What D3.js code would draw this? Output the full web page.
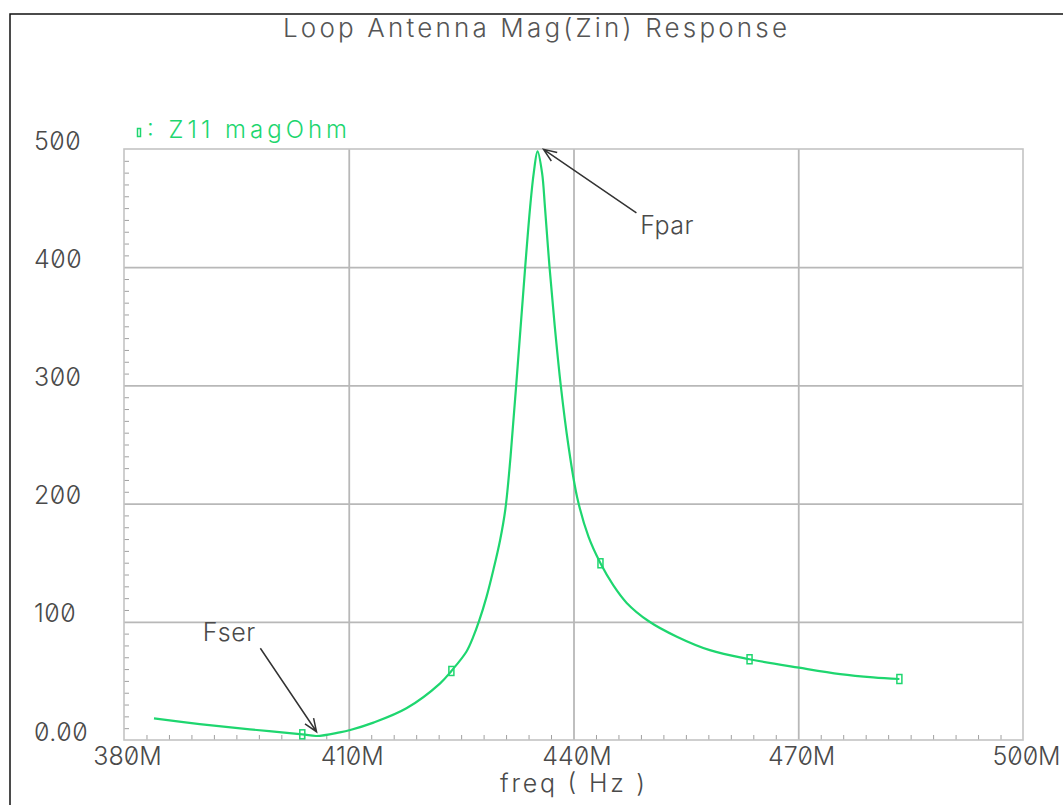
<!DOCTYPE html>
<html>
<head>
<meta charset="utf-8">
<script src="https://cdn.jsdelivr.net/npm/d3@7"></script>
<style>
  body { margin: 0; background: #fff; }
  text { font-family: Inter, "DejaVu Sans", sans-serif; font-weight: 300;
         font-variant-numeric: slashed-zero; font-feature-settings: "zero" 1; }
</style>
</head>
<body>
<div id="chart"></div>
<script>
// data (freq in MHz, magnitude in Ohm)
var freq = [384, 390.1, 396.8, 403.8, 405.7, 408.8, 410.2, 413.3, 417.7, 422.2, 423.7, 425.7, 426.6, 427.4,
            428.4, 429.3, 430.2, 430.9, 431.6, 432.35, 433.55, 434.2, 434.7, 435.2, 435.8, 436.2, 436.8, 437.5,
            438.3, 439.3, 440.5, 442, 443.6, 445.3, 447.1, 450, 453.8, 458.2, 463.5, 470.1, 475.6, 480, 483.5];
var mag  = [18.3, 13.5, 9, 4.8, 3.4, 6.5, 8.5, 14.7, 26.8, 47.9, 58.4, 74.7, 87, 100.7,
            121.3, 143.8, 169, 195, 240, 300, 400, 450, 480, 498, 480, 450, 400, 350,
            300, 250, 205, 172, 149.5, 131, 116, 100.7, 87.4, 76, 68.3, 61.2, 55.8, 53, 51.6];
var markerFreq = [403.8, 423.7, 443.6, 463.5, 483.5];
var markerMag  = [4.8, 58.4, 149.5, 68.3, 51.6];

var xTicks = [380, 410, 440, 470, 500];
var yTicks = [0, 100, 200, 300, 400, 500];
var yTickLabels = ["0.00", "100", "200", "300", "400", "500"];

var title = "Loop Antenna Mag(Zin) Response";
var legendLabel = ": Z11 magOhm";
var xTitle = "freq ( Hz )";

// annotations in data coords: label pos, arrow tail, arrow tip
var notes = [
  { text: "Fpar", lx: 448.9, ly: 428, tx: 448.4, ty: 446, hx: 436.0, hy: 499.7 },
  { text: "Fser", lx: 390.5, ly: 84, tx: 398.2, ty: 77.6, hx: 405.7, hy: 7 }
];

var svgWidth = 1063;
var svgHeight = 805;
var margin = { top: 149, right: 40, bottom: 65, left: 124 };
var width = svgWidth - margin.left - margin.right;
var height = svgHeight - margin.top - margin.bottom;

var green = "#1ed66f";
var gridColor = "#b8b8b8";
var textColor = "#4a4a4a";

var svg = d3.select("#chart")
  .append("svg")
  .attr("width", svgWidth)
  .attr("height", svgHeight);

// outer frame (top and left edges visible)
svg.append("path")
  .attr("d", "M10," + svgHeight + " V14 H" + svgWidth)
  .attr("fill", "none")
  .attr("stroke", "#111")
  .attr("stroke-width", 1.5);

var chart = svg.append("g")
  .attr("transform", `translate(${margin.left}, ${margin.top})`);

var x = d3.scaleLinear().domain([380, 500]).range([0, width]);
var y = d3.scaleLinear().domain([0, 500]).range([height, 0]);

// minor ticks
var xMinor = d3.range(383, 500, 3).filter(d => (d - 380) % 30 !== 0);
var yMinor = d3.range(10, 500, 10).filter(d => d % 100 !== 0);

chart.append("g")
  .attr("transform", `translate(0, ${height})`)
  .call(d3.axisBottom(x).tickValues(xMinor).tickSize(-5).tickFormat(""))
  .call(g => g.select(".domain").remove())
  .selectAll("line").attr("stroke", "#a0a0a0");

chart.append("g")
  .call(d3.axisLeft(y).tickValues(yMinor).tickSize(-5).tickFormat(""))
  .call(g => g.select(".domain").remove())
  .selectAll("line").attr("stroke", "#a0a0a0");

// grid
chart.append("g")
  .attr("transform", `translate(0, ${height})`)
  .call(d3.axisBottom(x).tickValues(xTicks.slice(1, -1)).tickSize(-height).tickFormat(""))
  .call(g => g.select(".domain").remove())
  .selectAll("line").attr("stroke", gridColor).attr("stroke-width", 1.8);

chart.append("g")
  .call(d3.axisLeft(y).tickValues(yTicks.slice(1, -1)).tickSize(-width).tickFormat(""))
  .call(g => g.select(".domain").remove())
  .selectAll("line").attr("stroke", gridColor).attr("stroke-width", 1.8);

chart.append("rect")
  .attr("width", width)
  .attr("height", height)
  .attr("fill", "none")
  .attr("stroke", "#c4c4c4")
  .attr("stroke-width", 1.6);

// tick labels
var bottomAxis = chart.append("g")
  .attr("transform", `translate(0, ${height})`)
  .call(d3.axisBottom(x).tickValues(xTicks).tickSize(0).tickPadding(7).tickFormat(d => d + "M"));
bottomAxis.select(".domain").remove();
bottomAxis.selectAll("text")
  .attr("dx", 3)
  .attr("font-size", "25px")
  .attr("fill", textColor);

var leftAxis = chart.append("g")
  .call(d3.axisLeft(y).tickValues(yTicks).tickSize(0).tickFormat((d, i) => yTickLabels[i]));
leftAxis.select(".domain").remove();
leftAxis.selectAll("text")
  .attr("x", 34 - margin.left)
  .attr("dy", 0)
  .attr("text-anchor", "start")
  .attr("font-size", "25px")
  .attr("letter-spacing", "0.5px")
  .attr("fill", textColor);

// curve
var line = d3.line()
  .x((d, i) => x(freq[i]))
  .y((d, i) => y(mag[i]))
  .curve(d3.curveCatmullRom.alpha(0.5));

chart.append("path")
  .datum(mag)
  .attr("d", line)
  .attr("fill", "none")
  .attr("stroke", green)
  .attr("stroke-width", 2.2);

chart.selectAll(".marker")
  .data(markerFreq)
  .enter()
  .append("rect")
  .attr("class", "marker")
  .attr("x", d => x(d) - 2.5)
  .attr("y", (d, i) => y(markerMag[i]) - 4.5)
  .attr("width", 5)
  .attr("height", 9)
  .attr("fill", "none")
  .attr("stroke", green)
  .attr("stroke-width", 1.5);

// annotations with open arrowheads
notes.forEach(function(n) {
  var x1 = x(n.tx), y1 = y(n.ty), x2 = x(n.hx), y2 = y(n.hy);
  var a = Math.atan2(y2 - y1, x2 - x1);
  var L = 14, s = 0.38;
  var p1 = [x2 - L * Math.cos(a - s), y2 - L * Math.sin(a - s)];
  var p2 = [x2 - L * Math.cos(a + s), y2 - L * Math.sin(a + s)];
  chart.append("path")
    .attr("d", `M${x1},${y1} L${x2},${y2} M${p1[0]},${p1[1]} L${x2},${y2} L${p2[0]},${p2[1]}`)
    .attr("fill", "none")
    .attr("stroke", "#333")
    .attr("stroke-width", 1.5);
  chart.append("text")
    .attr("x", x(n.lx))
    .attr("y", y(n.ly))
    .attr("font-size", "25px")
    .attr("letter-spacing", "0.5px")
    .attr("fill", textColor)
    .text(n.text);
});

// title
svg.append("text")
  .attr("x", 283)
  .attr("y", 37)
  .attr("font-size", "26px")
  .attr("textLength", 504)
  .attr("lengthAdjust", "spacing")
  .attr("fill", "#555")
  .text(title);

// legend
svg.append("rect")
  .attr("x", 137.5)
  .attr("y", 128.5)
  .attr("width", 3)
  .attr("height", 8)
  .attr("fill", "none")
  .attr("stroke", green)
  .attr("stroke-width", 1.5);

svg.append("text")
  .attr("x", 147)
  .attr("y", 138)
  .attr("font-size", "24px")
  .attr("textLength", 200)
  .attr("lengthAdjust", "spacing")
  .attr("fill", green)
  .text(legendLabel);

// x axis title
svg.append("text")
  .attr("x", 500)
  .attr("y", 792)
  .attr("font-size", "25px")
  .attr("textLength", 145)
  .attr("lengthAdjust", "spacing")
  .attr("fill", textColor)
  .text(xTitle);
</script>
</body>
</html>
